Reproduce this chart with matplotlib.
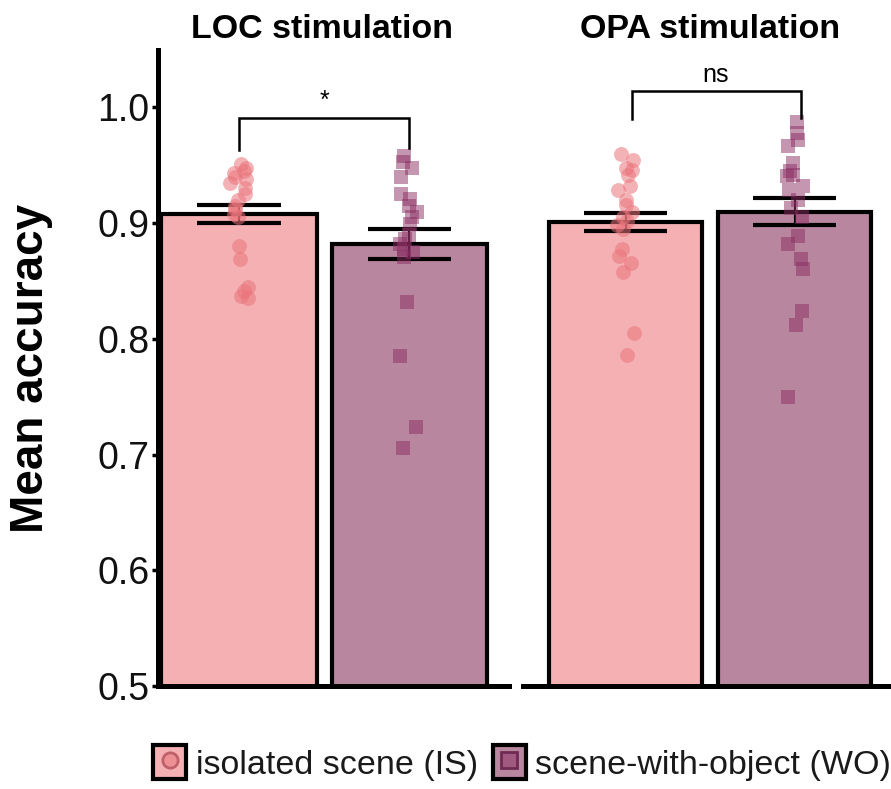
import numpy as np
import matplotlib
matplotlib.use('Agg')
import matplotlib.pyplot as plt
from matplotlib.patches import Patch
from matplotlib.lines import Line2D
from matplotlib.legend_handler import HandlerTuple

plt.rcParams['font.family'] = ['Liberation Sans', 'DejaVu Sans']

# accuracy per participant
loc_is = [0.951, 0.948, 0.945, 0.943, 0.940, 0.938, 0.935, 0.930, 0.925, 0.920,
          0.915, 0.912, 0.908, 0.905, 0.880, 0.869, 0.845, 0.841, 0.837, 0.835]
loc_wo = [0.958, 0.953, 0.948, 0.940, 0.925, 0.921, 0.915, 0.910, 0.905, 0.899,
          0.890, 0.886, 0.882, 0.878, 0.875, 0.871, 0.832, 0.785, 0.724, 0.706]
opa_is = [0.960, 0.955, 0.948, 0.946, 0.942, 0.932, 0.929, 0.920, 0.916, 0.910,
          0.905, 0.902, 0.898, 0.895, 0.878, 0.872, 0.866, 0.858, 0.805, 0.786]
opa_wo = [0.987, 0.978, 0.972, 0.967, 0.952, 0.945, 0.942, 0.941, 0.932, 0.929,
          0.920, 0.913, 0.905, 0.889, 0.882, 0.869, 0.860, 0.824, 0.812, 0.750]

# group means and standard errors
loc_mean = [0.908, 0.882]
loc_sem = [0.008, 0.013]
opa_mean = [0.901, 0.910]
opa_sem = [0.008, 0.012]

panels = ['LOC stimulation', 'OPA stimulation']
conditions = ['isolated scene (IS)', 'scene-with-object (WO)']
signif = ['*', 'ns']
yticks = [0.5, 0.6, 0.7, 0.8, 0.9, 1.0]

bar_cols = ['#F4B0B3', '#B8869F']
pt_cols = ['#EA747B', '#8B2E63']
pt_alpha = [0.55, 0.5]
markers = ['o', 's']

W, H = 891, 789
fig = plt.figure(figsize=(W / 100, H / 100), dpi=100)
axL = fig.add_axes([158 / W, 1 - 686 / H, (509 - 158) / W, (686 - 49.6) / H])
axR = fig.add_axes([523 / W, 1 - 686 / H, (896 - 523) / W, (686 - 49.6) / H])

rng = np.random.default_rng(7)

def draw_panel(ax, points, means, sems, label, bracket_x, bracket_y, drop):
    x = np.arange(2)
    ax.bar(x, means, width=0.91, color=bar_cols, edgecolor='black',
           linewidth=3, zorder=1)
    for i in range(2):
        ax.vlines(x[i], means[i] - sems[i], means[i] + sems[i],
                  color='black', lw=1.5, zorder=2)
        ax.hlines([means[i] - sems[i], means[i] + sems[i]], x[i] - 0.245,
                  x[i] + 0.245, color='black', lw=3, zorder=2)
        jit = rng.uniform(-0.055, 0.055, len(points[i]))
        ax.scatter(x[i] + jit, points[i], s=115 if i == 0 else 100,
                   marker=markers[i], color=pt_cols[i], alpha=pt_alpha[i],
                   linewidths=0, zorder=3)
    # significance bracket
    bx0, bx1 = bracket_x
    ax.plot([bx0, bx0, bx1, bx1], [bracket_y - drop[0], bracket_y, bracket_y,
                                   bracket_y - drop[1]],
            color='black', lw=1.8, zorder=4, solid_joinstyle='miter')
    ax.text((bx0 + bx1) / 2, bracket_y + 0.004, label, ha='center',
            va='bottom', fontsize=18, color='black')
    ax.set_ylim(0.5, 1.05)
    ax.set_xticks([])
    for s in ['top', 'right']:
        ax.spines[s].set_visible(False)
    ax.spines['bottom'].set_linewidth(3.6)
    ax.spines['left'].set_linewidth(3.6)

draw_panel(axL, [loc_is, loc_wo], loc_mean, loc_sem, signif[0],
           (0.0, 1.0), 0.991, (0.028, 0.026))
axL.set_xlim(-0.475, 1.584)
axL.set_yticks(yticks)
axL.set_yticklabels([f'{v:.1f}' for v in yticks])
axL.tick_params(axis='y', labelsize=27, length=4, width=2.5,
                labelcolor='#111111', pad=2)

draw_panel(axR, [opa_is, opa_wo], opa_mean, opa_sem, signif[1],
           (0.035, 1.035), 1.014, (0.024, 0.023))
axR.set_xlim(-0.607, 1.60)
axR.spines['left'].set_visible(False)
axR.set_yticks([])

fig.text(322 / W, 1 - 30 / H, panels[0], ha='center', va='center',
         fontsize=24.5, fontweight='bold')
fig.text(710 / W, 1 - 30 / H, panels[1], ha='center', va='center',
         fontsize=24.5, fontweight='bold')
fig.text(31 / W, 1 - 368 / H, 'Mean accuracy', rotation=90, ha='center',
         va='center', fontsize=33, fontweight='bold')

handles = []
edge_cols = ['#C0606A', '#6E2A52']
for i in range(2):
    box = Patch(facecolor=bar_cols[i], edgecolor='black', linewidth=3)
    mk = Line2D([], [], linestyle='none', marker=markers[i], markersize=11,
                markerfacecolor=matplotlib.colors.to_rgba(pt_cols[i], pt_alpha[i]),
                markeredgecolor=edge_cols[i], markeredgewidth=2)
    handles.append((box, mk))
fig.legend(handles, conditions, loc='center', bbox_to_anchor=(522 / W, 1 - 763 / H),
           ncol=2, frameon=False, handlelength=0.97, handleheight=1.12,
           handletextpad=0.27, columnspacing=0.44, borderpad=0, fontsize=24.5,
           labelcolor='#1a1a1a', handler_map={tuple: HandlerTuple(ndivide=1)})

fig.savefig('out.png', dpi=100)
